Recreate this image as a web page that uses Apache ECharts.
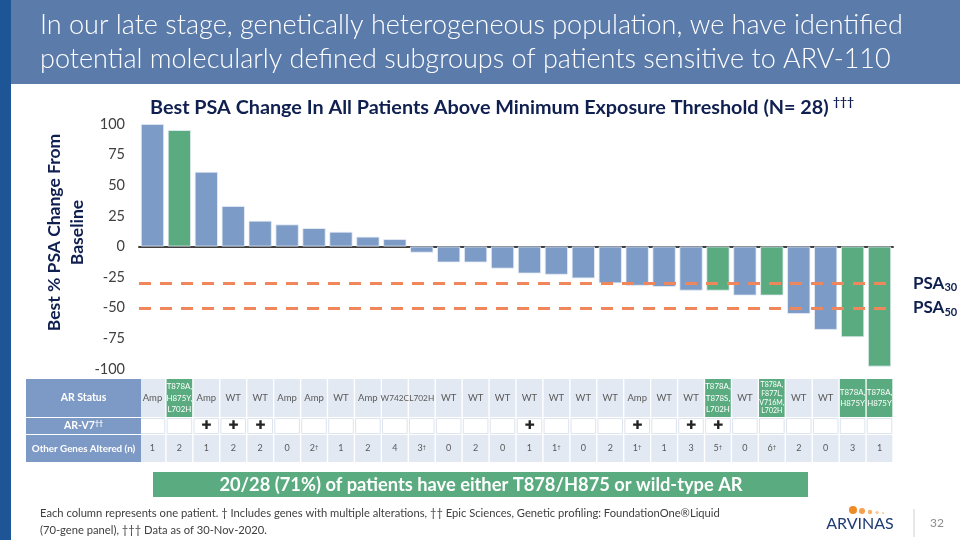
<!DOCTYPE html>
<html><head><meta charset="utf-8">
<script src="https://cdn.jsdelivr.net/npm/echarts@6/dist/echarts.min.js"></script>
<style>html,body{margin:0;padding:0;background:#fff}#c{width:960px;height:540px}</style>
</head><body><div id="c"></div>
<script>
// ---------- data ----------
const patients = ['P1','P2','P3','P4','P5','P6','P7','P8','P9','P10','P11','P12','P13','P14',
  'P15','P16','P17','P18','P19','P20','P21','P22','P23','P24','P25','P26','P27','P28'];
const psaChange = [100, 95, 61, 33, 21, 18, 15, 12, 8, 6, -5, -13, -13, -18,
  -22, -23, -26, -30, -32, -33, -36, -36, -40, -40, -55, -68, -74, -98];
const arStatus = ['Amp','T878A,\nH875Y,\nL702H','Amp','WT','WT','Amp','Amp','WT','Amp','W742C','L702H','WT','WT','WT',
  'WT','WT','WT','WT','Amp','WT','WT','T878A,\nT878S,\nL702H','WT','T878A,\nF877L,\nV716M,\nL702H','WT','WT','T878A,\nH875Y','T878A,\nH875Y'];
const arV7 = [0,0,1,1,1,0,0,0,0,0,0,0,0,0, 1,0,0,0,1,0,1,1,0,0,0,0,0,0];
const otherGenes = ['1','2','1','2','2','0','2†','1','2','4','3†','0','2','0',
  '1','1†','0','2','1†','1','3','5†','0','6†','2','0','3','1'];
const rowHeaders = ['AR Status', 'AR-V7††', 'Other Genes Altered (n)'];
const yMin = -100, yMax = 100, yInterval = 25;
const psaThresholds = [{name: '30', value: -30}, {name: '50', value: -50}];

// ---------- style ----------
const FONT = 'Lato, "Noto Sans", sans-serif';
const GREEN = '#5aab7f', BLUE = '#7c9bc6', CELL = '#e3e9f2', HEAD = '#7d99c6', NAVY = '#0f1f4f';
const GL = 139, GW = 754;
const isMut = s => /T878|H875/.test(s);
const supify = s => s.replace(/(†+)/g, '{s|$1}');

const chart = echarts.init(document.getElementById('c'));

const barData = psaChange.map((v, i) => ({
  value: v, itemStyle: {color: isMut(arStatus[i]) ? GREEN : BLUE}
}));
const statusData = arStatus.map(s => {
  const m = isMut(s), n = s.split('\n').length;
  const fs = n > 3 ? 7 : (m ? 7.9 : (s.length >= 5 ? 8.3 : 9.5));
  return {value: 1, itemStyle: {color: m ? GREEN : CELL},
    label: {formatter: s, color: m ? '#fff' : '#595959', fontSize: fs, lineHeight: n > 3 ? 8.8 : 11.5}};
});
const v7Data = arV7.map(v => ({value: 1,
  itemStyle: {color: '#fff', borderColor: '#dde4ee', borderWidth: 1},
  label: {formatter: v ? '✚' : ''}}));
const genesData = otherGenes.map(g => ({value: 1, itemStyle: {color: CELL},
  label: {formatter: supify(g)}}));

const rows = [{top: 379, height: 38}, {top: 418, height: 16}, {top: 435, height: 27}];

const grids = [{left: GL, width: GW, top: 124, height: 245}];
rows.forEach(r => grids.push({left: GL, width: GW, top: r.top, height: r.height}));
rows.forEach(r => grids.push({left: 26, width: 115, top: r.top, height: r.height}));
grids.forEach(g => { g.outerBoundsMode = 'none'; g.containLabel = false; });

const xAxes = [{type: 'category', data: patients, gridIndex: 0,
  axisLine: {onZero: true, lineStyle: {color: '#404040', width: 2}},
  axisTick: {show: false}, axisLabel: {show: false}}];
const yAxes = [{type: 'value', gridIndex: 0, min: yMin, max: yMax, interval: yInterval,
  axisLine: {show: false}, axisTick: {show: false}, splitLine: {show: false},
  axisLabel: {fontSize: 14.5, color: '#404040', fontFamily: FONT, margin: 14},
  name: 'Best % PSA Change From\nBaseline', nameLocation: 'middle', nameGap: 50, nameRotate: 90,
  nameMoveOverlap: false,
  nameTextStyle: {fontSize: 17.5, fontWeight: 'bold', color: NAVY, fontFamily: FONT, lineHeight: 23,
    padding: [0, 0, 0, 28]}}];
for (let i = 1; i <= 6; i++) {
  xAxes.push({type: 'category', gridIndex: i, data: i <= 3 ? patients : ['h'], show: false});
  yAxes.push({type: 'value', gridIndex: i, min: 0, max: 1, show: false});
}

const cellLabel = {show: true, position: 'inside', fontFamily: FONT, color: '#595959', fontSize: 9,
  rich: {s: {fontSize: 6, verticalAlign: 'top', lineHeight: 8, color: '#595959', fontFamily: FONT}}};

const series = [{
  type: 'bar', xAxisIndex: 0, yAxisIndex: 0, data: barData, barCategoryGap: '14%',
  itemStyle: {borderColor: '#e8eef6', borderWidth: 0.8},
  markLine: {silent: true, symbol: ['none', 'none'],
    lineStyle: {type: [12, 9], width: 3, color: '#f0875c'},
    label: {show: true, position: 'end', distance: 20,
      rich: {m: {fontSize: 17, fontWeight: 'bold', color: NAVY, fontFamily: FONT, lineHeight: 20},
             sub: {fontSize: 11, fontWeight: 'bold', color: NAVY, fontFamily: FONT, lineHeight: 12, verticalAlign: 'bottom'}}},
    data: psaThresholds.map(t => ({yAxis: t.value, label: {formatter: '{m|PSA}{sub|' + t.name + '}'}}))}
}, {
  type: 'bar', xAxisIndex: 1, yAxisIndex: 1, data: statusData, barCategoryGap: '5%', label: cellLabel
}, {
  type: 'bar', xAxisIndex: 2, yAxisIndex: 2, data: v7Data, barCategoryGap: '5%',
  label: Object.assign({}, cellLabel, {fontSize: 12, color: '#222', fontFamily: 'DejaVu Sans'})
}, {
  type: 'bar', xAxisIndex: 3, yAxisIndex: 3, data: genesData, barCategoryGap: '5%', label: cellLabel
}];
rowHeaders.forEach((h, i) => series.push({
  type: 'bar', xAxisIndex: 4 + i, yAxisIndex: 4 + i, barCategoryGap: 0,
  data: [{value: 1, itemStyle: {color: HEAD}}],
  label: {show: true, position: 'inside', formatter: supify(h), color: '#fff', fontWeight: 'bold',
    fontSize: i === 2 ? 9.8 : 10.5, fontFamily: FONT, overflow: 'none',
    rich: {s: {fontSize: 7, verticalAlign: 'top', lineHeight: 9, color: '#fff', fontWeight: 'bold', fontFamily: FONT}}}
}));
series.forEach(s => { s.silent = true; s.animation = false; });

chart.setOption({
  animation: false,
  textStyle: {fontFamily: FONT},
  title: [{
    text: '{m|Best PSA Change In All Patients Above Minimum Exposure Threshold (N= 28)} {s|†††}',
    left: 145, top: 91,
    textStyle: {rich: {
      m: {fontSize: 19.8, fontWeight: 'bold', color: NAVY, fontFamily: FONT, lineHeight: 24},
      s: {fontSize: 12, fontWeight: 'bold', color: NAVY, fontFamily: FONT, lineHeight: 13, verticalAlign: 'top'}}}
  }],
  grid: grids, xAxis: xAxes, yAxis: yAxes, series: series,
  graphic: [
    {type: 'rect', shape: {x: 11, y: 0, width: 949, height: 84}, style: {fill: '#5b7bab'}, silent: true, z: -10},
    {type: 'rect', shape: {x: 0, y: 0, width: 11, height: 540}, style: {fill: '#1d5596'}, silent: true},
    {type: 'text', left: 40, top: 8, silent: true, style: {
      text: 'In our late stage, genetically heterogeneous population, we have identified\npotential molecularly defined subgroups of patients sensitive to ARV-110',
      fill: '#fff', font: '300 27px ' + FONT, lineHeight: 34}},
    {type: 'rect', shape: {x: 153, y: 472, width: 655, height: 25}, style: {fill: GREEN}, silent: true},
    {type: 'text', x: 481, y: 485, silent: true, style: {
      text: '20/28 (71%) of patients have either T878/H875 or wild-type AR',
      fill: '#fff', font: 'bold 18.3px ' + FONT, align: 'center', verticalAlign: 'middle'}},
    {type: 'text', x: 40, y: 505, silent: true, style: {
      text: 'Each column represents one patient. † Includes genes with multiple alterations, †† Epic Sciences, Genetic profiling: FoundationOne®Liquid\n(70-gene panel), ††† Data as of 30-Nov-2020.',
      fill: '#404040', font: '11.2px ' + FONT, lineHeight: 17}},
    {type: 'text', x: 860, y: 524, silent: true, style: {
      text: 'ARVINAS', fill: '#1f3b73', font: '16px ' + FONT, align: 'center', verticalAlign: 'middle'}},
    {type: 'circle', shape: {cx: 853, cy: 510, r: 4}, style: {fill: '#f08a24'}, silent: true},
    {type: 'circle', shape: {cx: 862, cy: 511, r: 3}, style: {fill: '#f4a050'}, silent: true},
    {type: 'circle', shape: {cx: 870, cy: 512, r: 2.2}, style: {fill: '#f6b370'}, silent: true},
    {type: 'circle', shape: {cx: 877, cy: 512.5, r: 1.6}, style: {fill: '#f8c590'}, silent: true},
    {type: 'circle', shape: {cx: 883, cy: 513, r: 1.2}, style: {fill: '#fad5ae'}, silent: true},
    {type: 'line', shape: {x1: 914, y1: 509, x2: 914, y2: 537}, style: {stroke: '#d0d0d0', lineWidth: 1}, silent: true},
    {type: 'text', x: 937, y: 523, silent: true, style: {
      text: '32', fill: '#8c8c8c', font: '12px ' + FONT, align: 'center', verticalAlign: 'middle'}}
  ]
});
</script>
</body></html>
